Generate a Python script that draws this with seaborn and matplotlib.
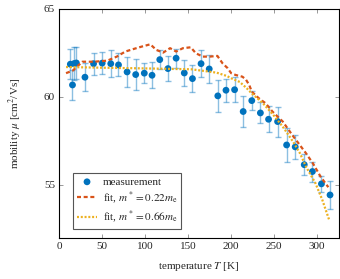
import matplotlib
matplotlib.use("Agg")
import matplotlib.pyplot as plt
import seaborn as sns
import pandas as pd

# === Data ===
T_meas = [13, 15.5, 17.5, 20, 30, 40, 50, 60, 69, 79, 89, 99, 108, 117, 126.5, 136,
          145.5, 155, 165, 174.5, 184.5, 194, 204, 214, 224, 234, 243.5, 254, 264.5,
          274.5, 285, 294.5, 305, 315]
mu_meas = [61.86, 60.68, 61.9, 61.93, 61.12, 61.89, 61.92, 61.89, 61.82, 61.42, 61.27,
           61.35, 61.23, 62.12, 61.61, 62.2, 61.36, 61.04, 61.89, 61.59, 60.06, 60.38,
           60.41, 59.17, 59.79, 59.09, 58.73, 58.6, 57.27, 57.16, 56.15, 55.76, 55.06, 54.43]
mu_err = [0.85, 0.85, 0.95, 0.9, 0.78, 0.63, 0.63, 0.75, 0.65, 0.87, 0.87, 0.55, 0.74,
          0.55, 0.73, 0.55, 0.72, 0.75, 0.75, 0.8, 0.9, 0.65, 0.72, 0.9, 0.55, 0.6, 0.75,
          0.85, 0.95, 0.68, 0.6, 0.57, 0.45, 0.8]

T_fit1 = [8, 16, 27, 40, 56, 67, 77, 87, 96, 106, 113, 121, 129, 136, 144, 153, 159, 167,
          175, 184, 190, 196, 200, 205, 213, 217, 221, 224, 232, 240, 248, 260, 271, 287,
          295, 304, 313]
mu_fit1 = [61.35, 61.5, 62.0, 62.0, 62.06, 62.29, 62.58, 62.73, 62.86, 62.99, 62.67, 62.52,
           62.77, 62.58, 62.77, 62.82, 62.48, 62.29, 62.29, 62.33, 61.91, 61.63, 61.35, 61.25,
           61.15, 61.0, 60.68, 60.3, 59.93, 59.64, 59.17, 58.6, 57.84, 56.8, 56.23, 55.47, 54.87]

T_fit2 = [8, 50, 100, 154, 183, 195, 200, 210, 218, 224, 237, 249, 260, 272, 280, 287,
          298, 306, 314]
mu_fit2 = [61.7, 61.66, 61.62, 61.57, 61.38, 61.19, 61.06, 60.85, 60.5, 60.2, 59.64, 58.98,
           58.31, 57.46, 56.8, 56.04, 55.1, 54.15, 53.01]

labels = ['measurement', r'fit, $m^* = 0.22m_\mathrm{e}$', r'fit, $m^* = 0.66m_\mathrm{e}$']

# === Style ===
sns.set_style("ticks")
plt.rcParams['font.family'] = ['Liberation Serif', 'DejaVu Serif']
plt.rcParams['mathtext.fontset'] = 'stix'
plt.rcParams['font.size'] = 8

blue = '#0072BD'
red = '#D95319'
yellow = '#EDB120'

fig = plt.figure(figsize=(3.4, 2.79), dpi=100)
ax = fig.add_axes([0.174, 0.148, 0.822, 0.82])

meas = pd.DataFrame({'T': T_meas, 'mu': mu_meas})
fit1 = pd.DataFrame({'T': T_fit1, 'mu': mu_fit1})
fit2 = pd.DataFrame({'T': T_fit2, 'mu': mu_fit2})

ax.errorbar(T_meas, mu_meas, yerr=mu_err, fmt='none', ecolor=blue, alpha=0.45,
            elinewidth=1.0, capsize=2.5, capthick=1.0, zorder=2)
sns.scatterplot(data=meas, x='T', y='mu', ax=ax, color=blue, s=24, edgecolor='none',
                label=labels[0], zorder=3)
sns.lineplot(data=fit1, x='T', y='mu', ax=ax, color=red, lw=1.6, label=labels[1],
             dashes=False, zorder=4)
sns.lineplot(data=fit2, x='T', y='mu', ax=ax, color=yellow, lw=1.6, label=labels[2],
             dashes=False, zorder=4)
ax.lines[-2].set_dashes((1.8, 1.2))
ax.lines[-1].set_dashes((0.9, 0.8))

ax.set_xlim(0, 325)
ax.set_ylim(52, 65)
ax.set_xticks([0, 50, 100, 150, 200, 250, 300])
ax.set_yticks([55, 60, 65])
ax.tick_params(direction='in', top=True, right=True, length=3, width=0.6,
               color='#888888', labelsize=8, pad=3)
for sp in ax.spines.values():
    sp.set_linewidth(0.8)
    sp.set_color('black')

ax.set_xlabel(r'temperature $T$ [K]', fontsize=8, labelpad=6.5)
ax.set_ylabel(r'mobility $\mu$ [cm$^2$/Vs]', fontsize=8, labelpad=14)

leg = ax.legend(loc='lower left', bbox_to_anchor=(0.05, 0.037), borderaxespad=0,
                fancybox=False, edgecolor='#555555', framealpha=1, fontsize=8,
                handlelength=1.8, labelspacing=0.25, borderpad=0.35, handletextpad=0.5)
leg.get_frame().set_linewidth(0.8)

plt.savefig('out.png', dpi=100)
